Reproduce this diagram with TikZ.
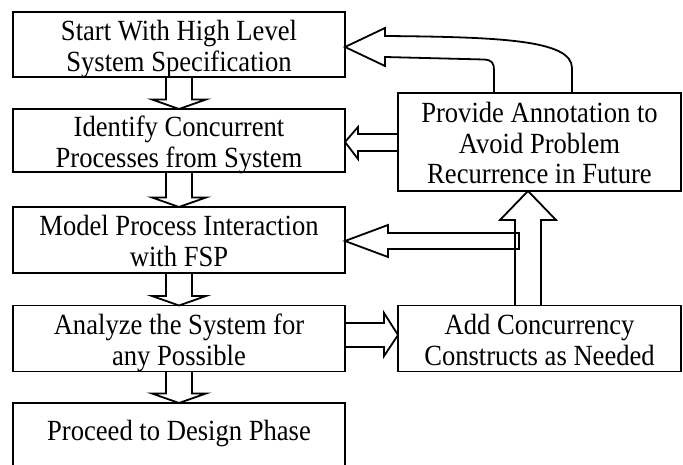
\documentclass[tikz,border=0pt]{standalone}
\usepackage{fontspec}
\usepackage{graphicx}
\setmainfont{Liberation Serif}
\usetikzlibrary{calc}
\newcommand\tx[1]{\raisebox{-5pt}[\height][\depth]{\scalebox{1}[1.1]{\begin{tabular}{@{}c@{}}#1\end{tabular}}}}
\newcommand\vblk[2]{\draw[blk] ($(#1.south)+(-13,0)$) -- ($(#2.north)+(-13,-9.5)$) -- ($(#2.north)+(-27,-9.5)$) -- (#2.north) -- ($(#2.north)+(27,-9.5)$) -- ($(#2.north)+(13,-9.5)$) -- ($(#1.south)+(13,0)$);}
\begin{document}
\begin{tikzpicture}[x=1pt,y=-1pt,
  box/.style={draw, line width=1.8pt, rectangle, inner sep=0pt, outer sep=0pt, align=center, font=\fontsize{26.6}{28}\selectfont},
  blk/.style={draw, line width=1.8pt, line join=miter}]
\clip (0,0) rectangle (683,465);
\node[box, minimum width=332pt, minimum height=65pt] (start) at (179,44.5) {\tx{Start With High Level\\System Specification}};
\node[box, minimum width=332pt, minimum height=63pt] (ident) at (179,140.5) {\tx{Identify Concurrent\\Processes from System}};
\node[box, minimum width=332pt, minimum height=66pt] (model) at (179,240) {\tx{Model Process Interaction\\with FSP}};
\node[box, minimum width=332pt, minimum height=66pt] (analyze) at (179,338.5) {\tx{Analyze the System for\\any Possible}};
\node[box, minimum width=332pt, minimum height=82.5pt, anchor=north] (proceed) at (179,403) {\tx{Proceed to Design Phase\\\mbox{}}};
\node[box, minimum width=283pt, minimum height=98pt] (provide) at (539.5,142) {\tx{Provide Annotation to\\Avoid Problem\\Recurrence in Future}};
\node[box, minimum width=283pt, minimum height=66pt] (add) at (539.5,338.5) {\tx{Add Concurrency\\Constructs as Needed}};
\coordinate (mend) at (519,241);
% down arrows
\vblk{start}{ident}
\vblk{ident}{model}
\vblk{model}{analyze}
\vblk{analyze}{proceed}
% analyze -> add
\draw[blk] ($(analyze.east)+(0,-15.5)$) -- ($(add.west)+(-14,-15.5)$) -- ($(add.west)+(-14,-25.5)$) -- ($(add.west)+(0,-3.5)$) -- ($(add.west)+(-14,17.5)$) -- ($(add.west)+(-14,8.5)$) -- ($(analyze.east)+(0,8.5)$);
% provide -> ident
\draw[blk] ($(provide.west)+(0,-8)$) -- ($(ident.east)+(13,-6.5)$) -- ($(ident.east)+(13,-13.5)$) -- ($(ident.east)+(0,1.5)$) -- ($(ident.east)+(13,18.5)$) -- ($(ident.east)+(13,10.5)$) -- ($(provide.west)+(0,9)$);
% add -> provide
\draw[blk] ($(add.north)+(-24.5,0)$) -- ($(provide.south)+(-24.5,29)$) -- ($(provide.south)+(-39.5,29)$) -- ($(provide.south)+(-11.5,0)$) -- ($(provide.south)+(16.5,29)$) -- ($(provide.south)+(1.5,29)$) -- ($(add.north)+(1.5,0)$);
% to model
\draw[blk] ($(mend)+(0,-8)$) -- ($(model.east)+(43,-7)$) -- ($(model.east)+(43,-15)$) -- ($(model.east)+(0,1)$) -- ($(model.east)+(43,17)$) -- ($(model.east)+(43,9)$) -- ($(mend)+(0,8)$) -- cycle;
% provide -> start (curved)
\draw[blk] ($(provide.north)+(32.5,0)$) -- (572,68) .. controls (572,40) and (500,37) .. (385,36) -- (385,28) -- ($(start.east)+(0,2.5)$) -- (385,66) -- (385,57) -- (484,59.5) .. controls (492,60) and (494,63) .. (494,70) -- ($(provide.north)+(-45.5,0)$);
\end{tikzpicture}
\end{document}
